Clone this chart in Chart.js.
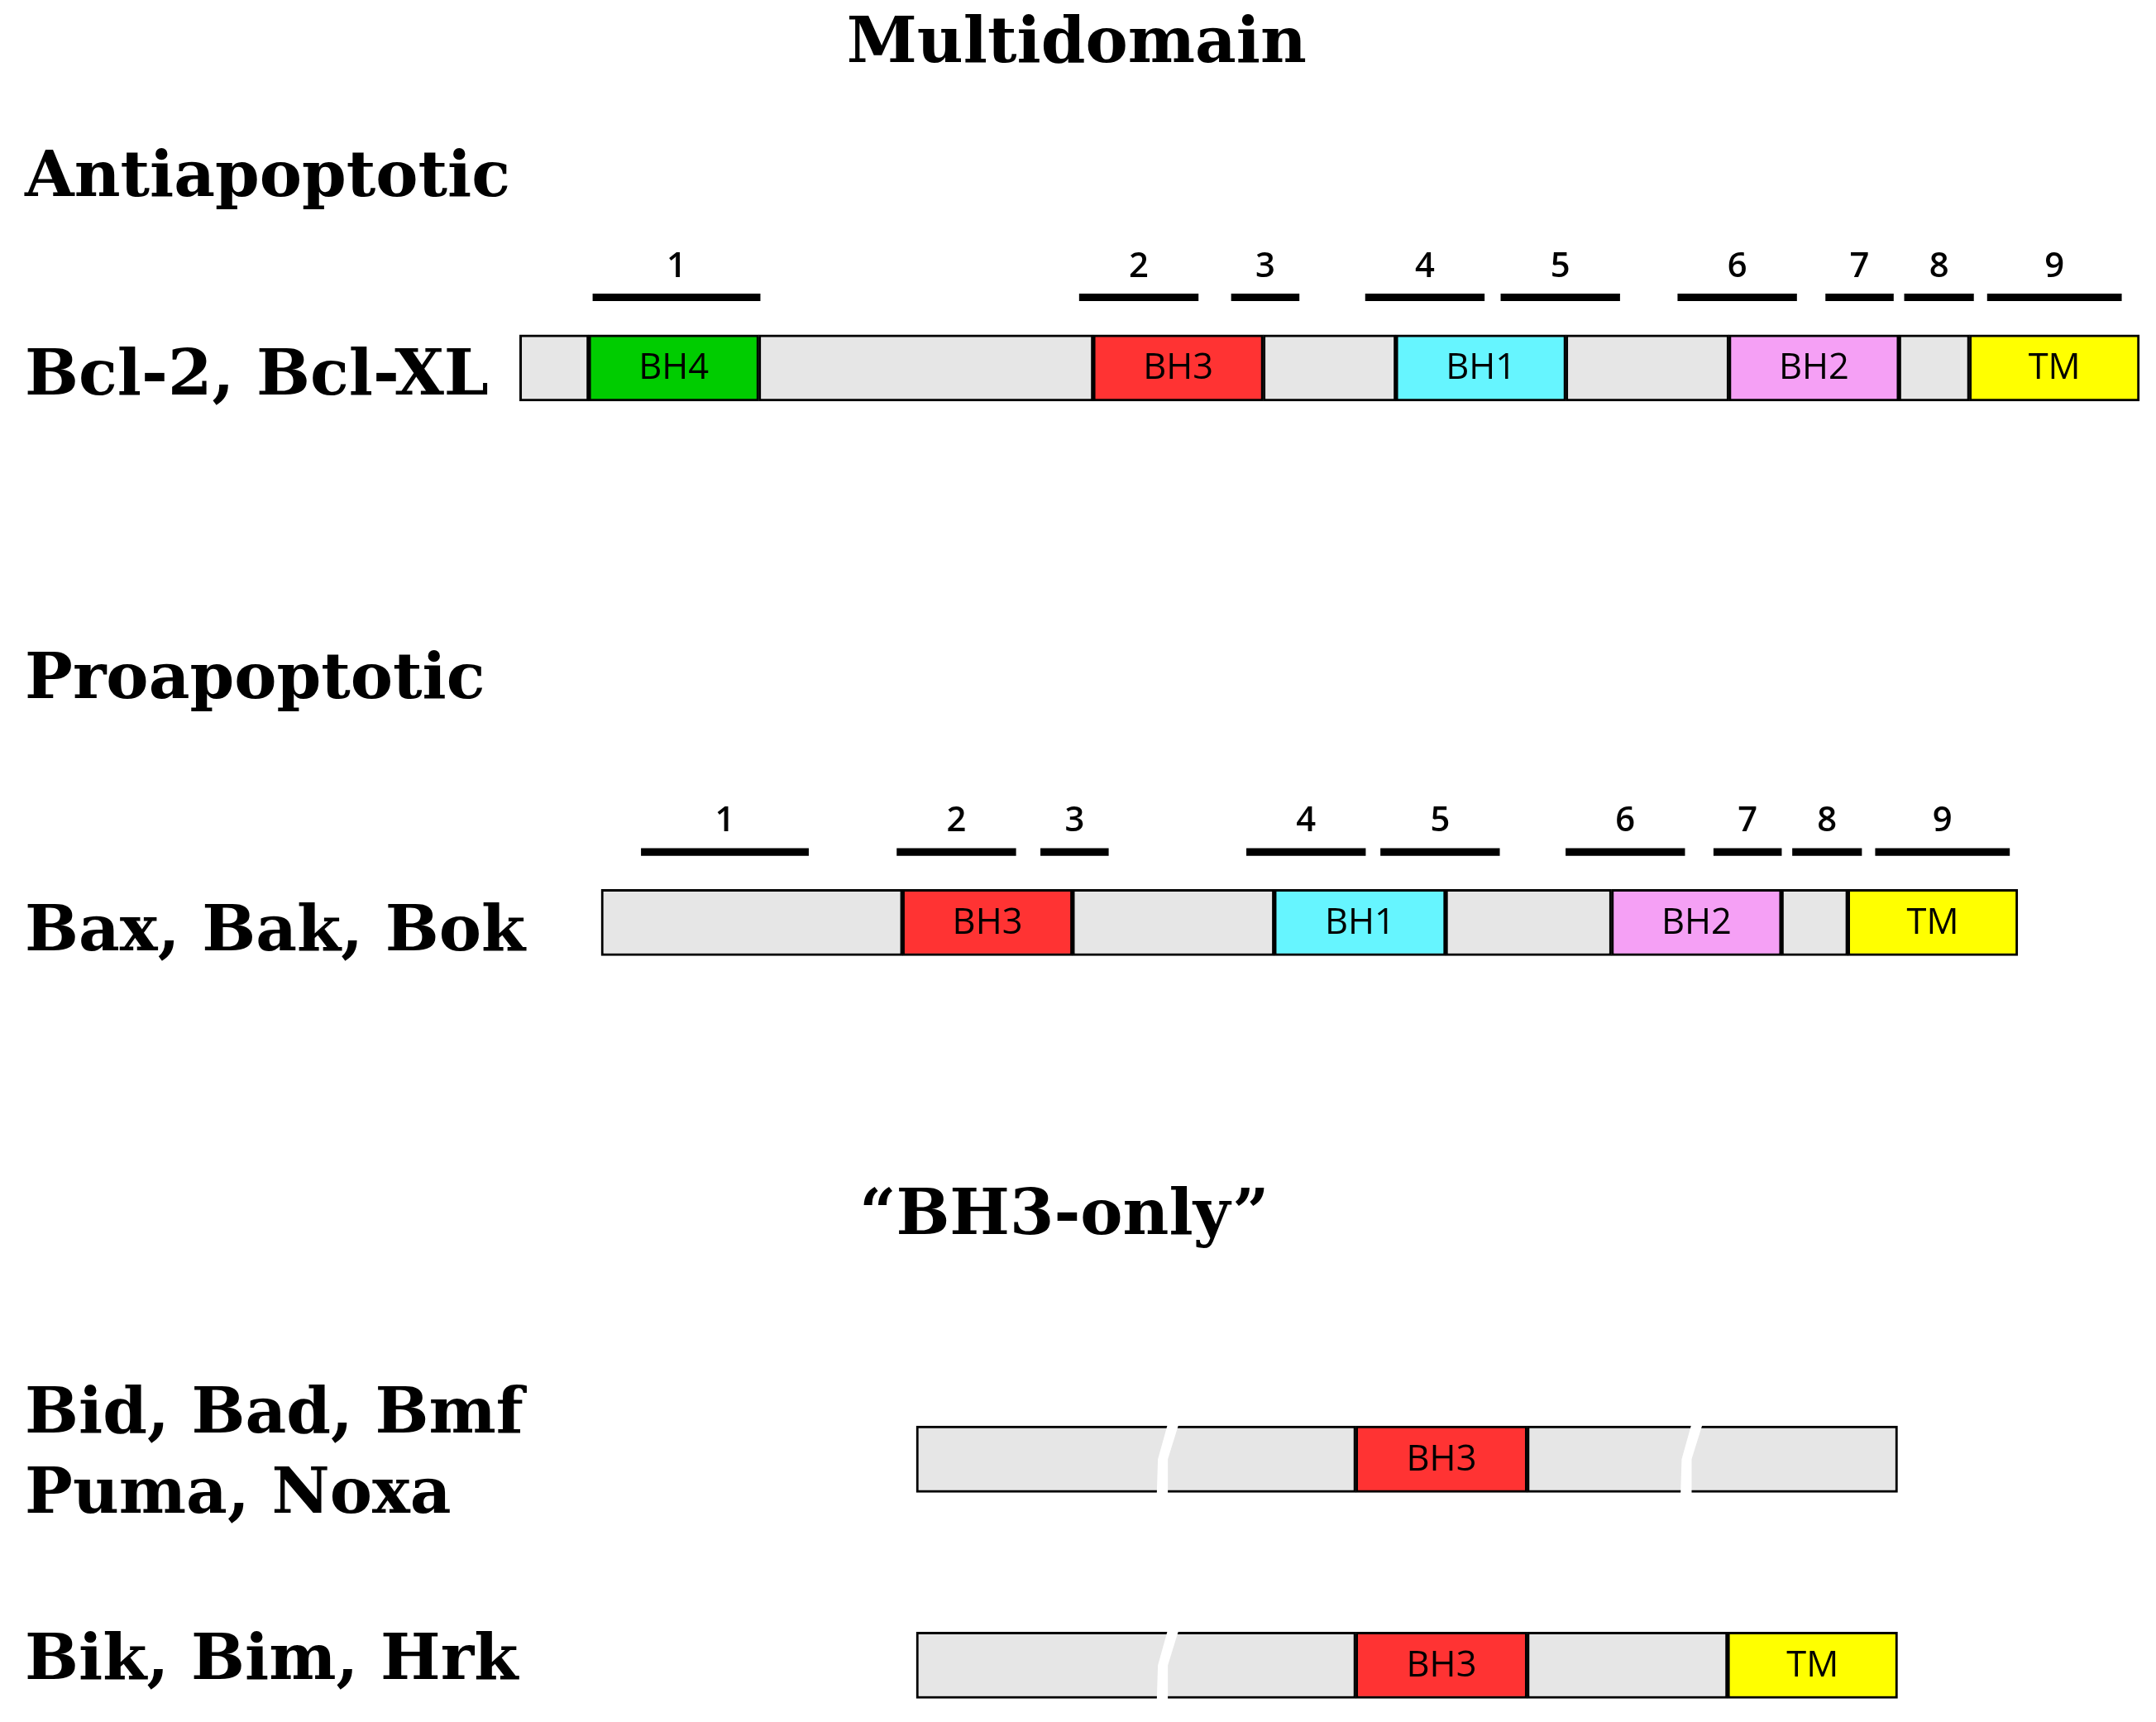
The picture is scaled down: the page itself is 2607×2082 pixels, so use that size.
<!DOCTYPE html>
<html><head><meta charset="utf-8">
<script src="https://cdn.jsdelivr.net/npm/chart.js@4"></script>
<style>html,body{margin:0;padding:0;background:#fff;}</style>
</head><body>
<canvas id="c" width="2607" height="2082"></canvas>
<script>
// Units: diagram units (0..1560 horizontally, 0..1245 vertically)
const rowY = {bcl2: 266, bax: 667, bid: 1055, bik: 1204};
const helixY = {bcl2: 215, bax: 616};

const bcl2Starts = [376, 426, 549, 791, 914, 1010, 1133, 1251, 1374, 1425];
const bcl2Ends   = [426, 549, 791, 914, 1010, 1133, 1251, 1374, 1425, 1548];
const bcl2Domains= ['', 'BH4', '', 'BH3', '', 'BH1', '', 'BH2', '', 'TM'];

const baxStarts = [435, 653, 776, 922, 1046, 1166, 1289, 1337];
const baxEnds   = [653, 776, 922, 1046, 1166, 1289, 1337, 1460];
const baxDomains= ['', 'BH3', '', 'BH1', '', 'BH2', '', 'TM'];

const bidStarts = [663, 981, 1105];
const bidEnds   = [981, 1105, 1373];
const bidDomains= ['', 'BH3', ''];
const bidBreaks = [843, 1222];

const bikStarts = [663, 981, 1105, 1250];
const bikEnds   = [981, 1105, 1250, 1373];
const bikDomains= ['', 'BH3', '', 'TM'];
const bikBreaks = [843];

const helixLabels = ['1','2','3','4','5','6','7','8','9'];
const bcl2HelixStarts = [429, 781, 891, 988, 1086, 1214, 1321, 1378, 1438];
const bcl2HelixEnds   = [550, 867, 940, 1074, 1172, 1300, 1370, 1428, 1535];
const baxHelixStarts  = [464, 649, 753, 902, 999, 1133, 1240, 1297, 1357];
const baxHelixEnds    = [585, 735, 802, 988, 1085, 1219, 1289, 1347, 1454];

const domainColors = {'': '#e6e6e6', BH4: '#00cc00', BH3: '#ff3333', BH1: '#66f5ff', BH2: '#f5a0f5', TM: '#ffff00'};

const titles = [
  {t: 'Multidomain', x: 779, y: 33, align: 'center'},
  {t: 'Antiapoptotic', x: 18, y: 130, align: 'left'},
  {t: 'Bcl-2, Bcl-XL', x: 18, y: 273, align: 'left'},
  {t: 'Proapoptotic', x: 18, y: 493, align: 'left'},
  {t: 'Bax, Bak, Bok', x: 18, y: 675, align: 'left'},
  {t: '\u201CBH3-only\u201D', x: 770, y: 880, align: 'center'},
  {t: 'Bid, Bad, Bmf', x: 18, y: 1024, align: 'left'},
  {t: 'Puma, Noxa', x: 18, y: 1082, align: 'left'},
  {t: 'Bik, Bim, Hrk', x: 18, y: 1202, align: 'left'}
];

const segData = [], segColors = [], segLabels = [];
function addRow(starts, ends, doms, y) {
  starts.forEach((s, i) => { segData.push({x: [s, ends[i]], y: y}); segColors.push(domainColors[doms[i]]); segLabels.push(doms[i]); });
}
addRow(bcl2Starts, bcl2Ends, bcl2Domains, rowY.bcl2);
addRow(baxStarts, baxEnds, baxDomains, rowY.bax);
addRow(bidStarts, bidEnds, bidDomains, rowY.bid);
addRow(bikStarts, bikEnds, bikDomains, rowY.bik);

const helixData = [], helixNums = [];
bcl2HelixStarts.forEach((s, i) => { helixData.push({x: [s, bcl2HelixEnds[i]], y: helixY.bcl2}); helixNums.push(helixLabels[i]); });
baxHelixStarts.forEach((s, i) => { helixData.push({x: [s, baxHelixEnds[i]], y: helixY.bax}); helixNums.push(helixLabels[i]); });

const breaks = [];
bidBreaks.forEach(b => breaks.push({x: b, y: rowY.bid}));
bikBreaks.forEach(b => breaks.push({x: b, y: rowY.bik}));

const K = 2607 / 1560;

const textPlugin = {
  id: 'texts',
  afterDatasetsDraw(chart) {
    const ctx = chart.ctx, xs = chart.scales.x, ys = chart.scales.y;
    ctx.save();
    // breaks: white slanted zigzag gaps
    breaks.forEach(b => {
      const cx = xs.getPixelForValue(b.x), cy = ys.getPixelForValue(b.y);
      const h = 24 * K + 3, w = 4 * K;
      ctx.fillStyle = '#fff';
      ctx.beginPath();
      ctx.moveTo(cx + 0.5*w, cy - h);
      ctx.lineTo(cx + 2.5*w, cy - h);
      ctx.lineTo(cx + 0.5*w, cy);
      ctx.lineTo(cx + 0.5*w, cy + h);
      ctx.lineTo(cx - 1.5*w, cy + h);
      ctx.lineTo(cx - 1.5*w + 0.2*w, cy);
      ctx.closePath();
      ctx.fill();
    });
    // domain labels
    ctx.fillStyle = '#000';
    ctx.font = (26 * K) + 'px "Open Sans", sans-serif';
    ctx.textAlign = 'center'; ctx.textBaseline = 'middle';
    segData.forEach((d, i) => {
      if (!segLabels[i]) return;
      ctx.fillText(segLabels[i], xs.getPixelForValue((d.x[0] + d.x[1]) / 2), ys.getPixelForValue(d.y) + 1);
    });
    // helix numbers
    ctx.font = '600 ' + (25 * K) + 'px "Open Sans", sans-serif';
    helixData.forEach((d, i) => {
      ctx.fillText(helixNums[i], xs.getPixelForValue((d.x[0] + d.x[1]) / 2), ys.getPixelForValue(d.y - 22));
    });
    // titles
    ctx.font = 'bold ' + (46 * K) + 'px "DejaVu Serif", "Liberation Serif", serif';
    titles.forEach(t => {
      ctx.textAlign = t.align;
      ctx.fillText(t.t, xs.getPixelForValue(t.x), ys.getPixelForValue(t.y));
    });
    ctx.restore();
  }
};

new Chart(document.getElementById('c'), {
  type: 'bar',
  data: {
    datasets: [
      {data: segData, backgroundColor: segColors, borderColor: '#000', borderWidth: 3, borderSkipped: false, barThickness: 48 * K, grouped: false},
      {data: helixData, backgroundColor: '#000', borderWidth: 0, barThickness: 5 * K, grouped: false}
    ]
  },
  options: {
    indexAxis: 'y',
    responsive: false,
    animation: false,
    devicePixelRatio: 1,
    layout: {padding: 0},
    plugins: {legend: {display: false}, tooltip: {enabled: false}},
    scales: {
      x: {type: 'linear', min: 0, max: 1560, offset: false, grace: 0, display: false},
      y: {type: 'linear', min: 0, max: 1245, reverse: true, offset: false, grace: 0, display: false}
    }
  },
  plugins: [textPlugin]
});
</script>
</body></html>
